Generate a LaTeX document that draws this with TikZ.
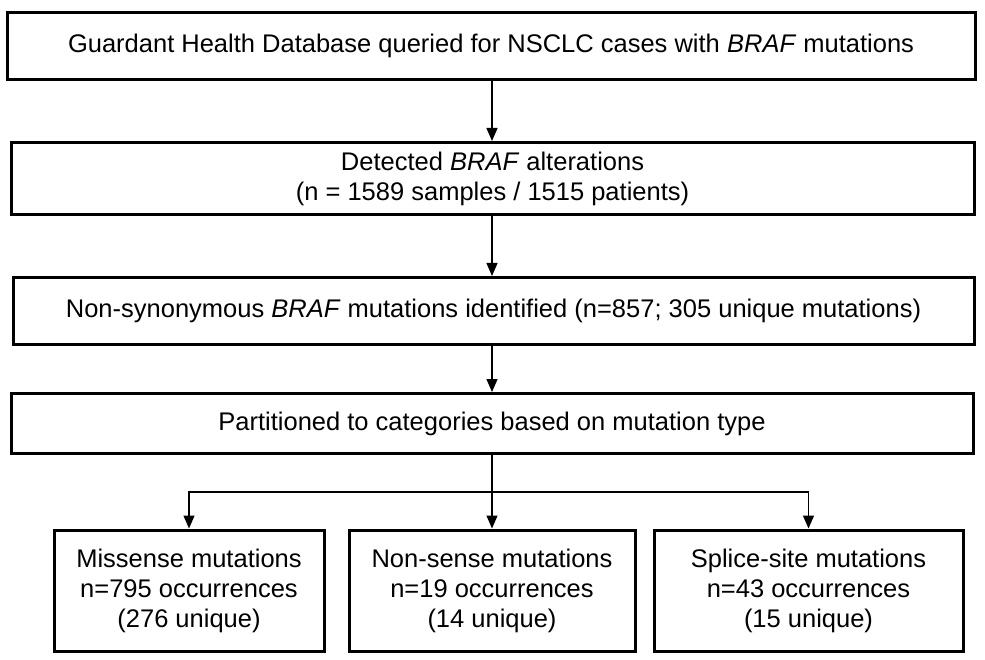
\documentclass[tikz,border=0pt]{standalone}
\usepackage{fontspec}
\setmainfont{Liberation Sans}
\usepackage[]{tikz}
\usetikzlibrary{positioning,arrows.meta}
\tikzset{stepbox/.style={draw,line width=3pt,align=center,inner sep=0pt,
    font=\fontsize{25.5}{30}\selectfont},
  flow/.style={line width=1.3pt,-{Triangle[length=13pt,width=11pt]}}}

\begin{document}
\begin{tikzpicture}[x=1pt,y=-1pt] % 像素坐标, y向下
    \useasboundingbox (0,0) rectangle (985,660);
    \node[stepbox,minimum width=968pt,minimum height=67pt] (query) at (491,46)
        {Guardant Health Database queried for NSCLC cases with \textit{BRAF} mutations};
    \node[stepbox,minimum width=963pt,minimum height=72pt] (detect) at (492.5,178.5)
        {Detected \textit{BRAF} alterations\\(n = 1589 samples / 1515 patients)};
    \node[stepbox,minimum width=961pt,minimum height=67pt] (nonsyn) at (493.5,311)
        {Non-synonymous \textit{BRAF} mutations identified (n=857; 305 unique mutations)};
    \node[stepbox,minimum width=962pt,minimum height=60pt] (partition) at (492,423.5)
        {Partitioned to categories based on mutation type};
    % 三个类别
    \node[stepbox,minimum width=270pt,minimum height=121pt] (missense) at (189,590.5)
        {Missense mutations\\n=795 occurrences\\(276 unique)};
    \node[stepbox,minimum width=286pt,minimum height=121pt] (nonsense) at (492,590.5)
        {Non-sense mutations\\n=19 occurrences\\(14 unique)};
    \node[stepbox,minimum width=309pt,minimum height=121pt] (splice) at (808.5,590.5)
        {Splice-site mutations\\n=43 occurrences\\(15 unique)};
    \coordinate (split) at (492,492);
    % 箭头
    \draw[flow] (query.south -| nonsense) -- (detect.north -| nonsense);
    \draw[flow] (detect.south -| nonsense) -- (nonsyn.north -| nonsense);
    \draw[flow] (nonsyn.south -| nonsense) -- (partition.north -| nonsense);
    \draw[line width=1.3pt] (partition.south -| nonsense) -- (split);
    \draw[flow] (split) -- (nonsense.north);
    \draw[flow] (split) -| (missense.north);
    \draw[flow] (split) -| (splice.north);
\end{tikzpicture}
\end{document}
